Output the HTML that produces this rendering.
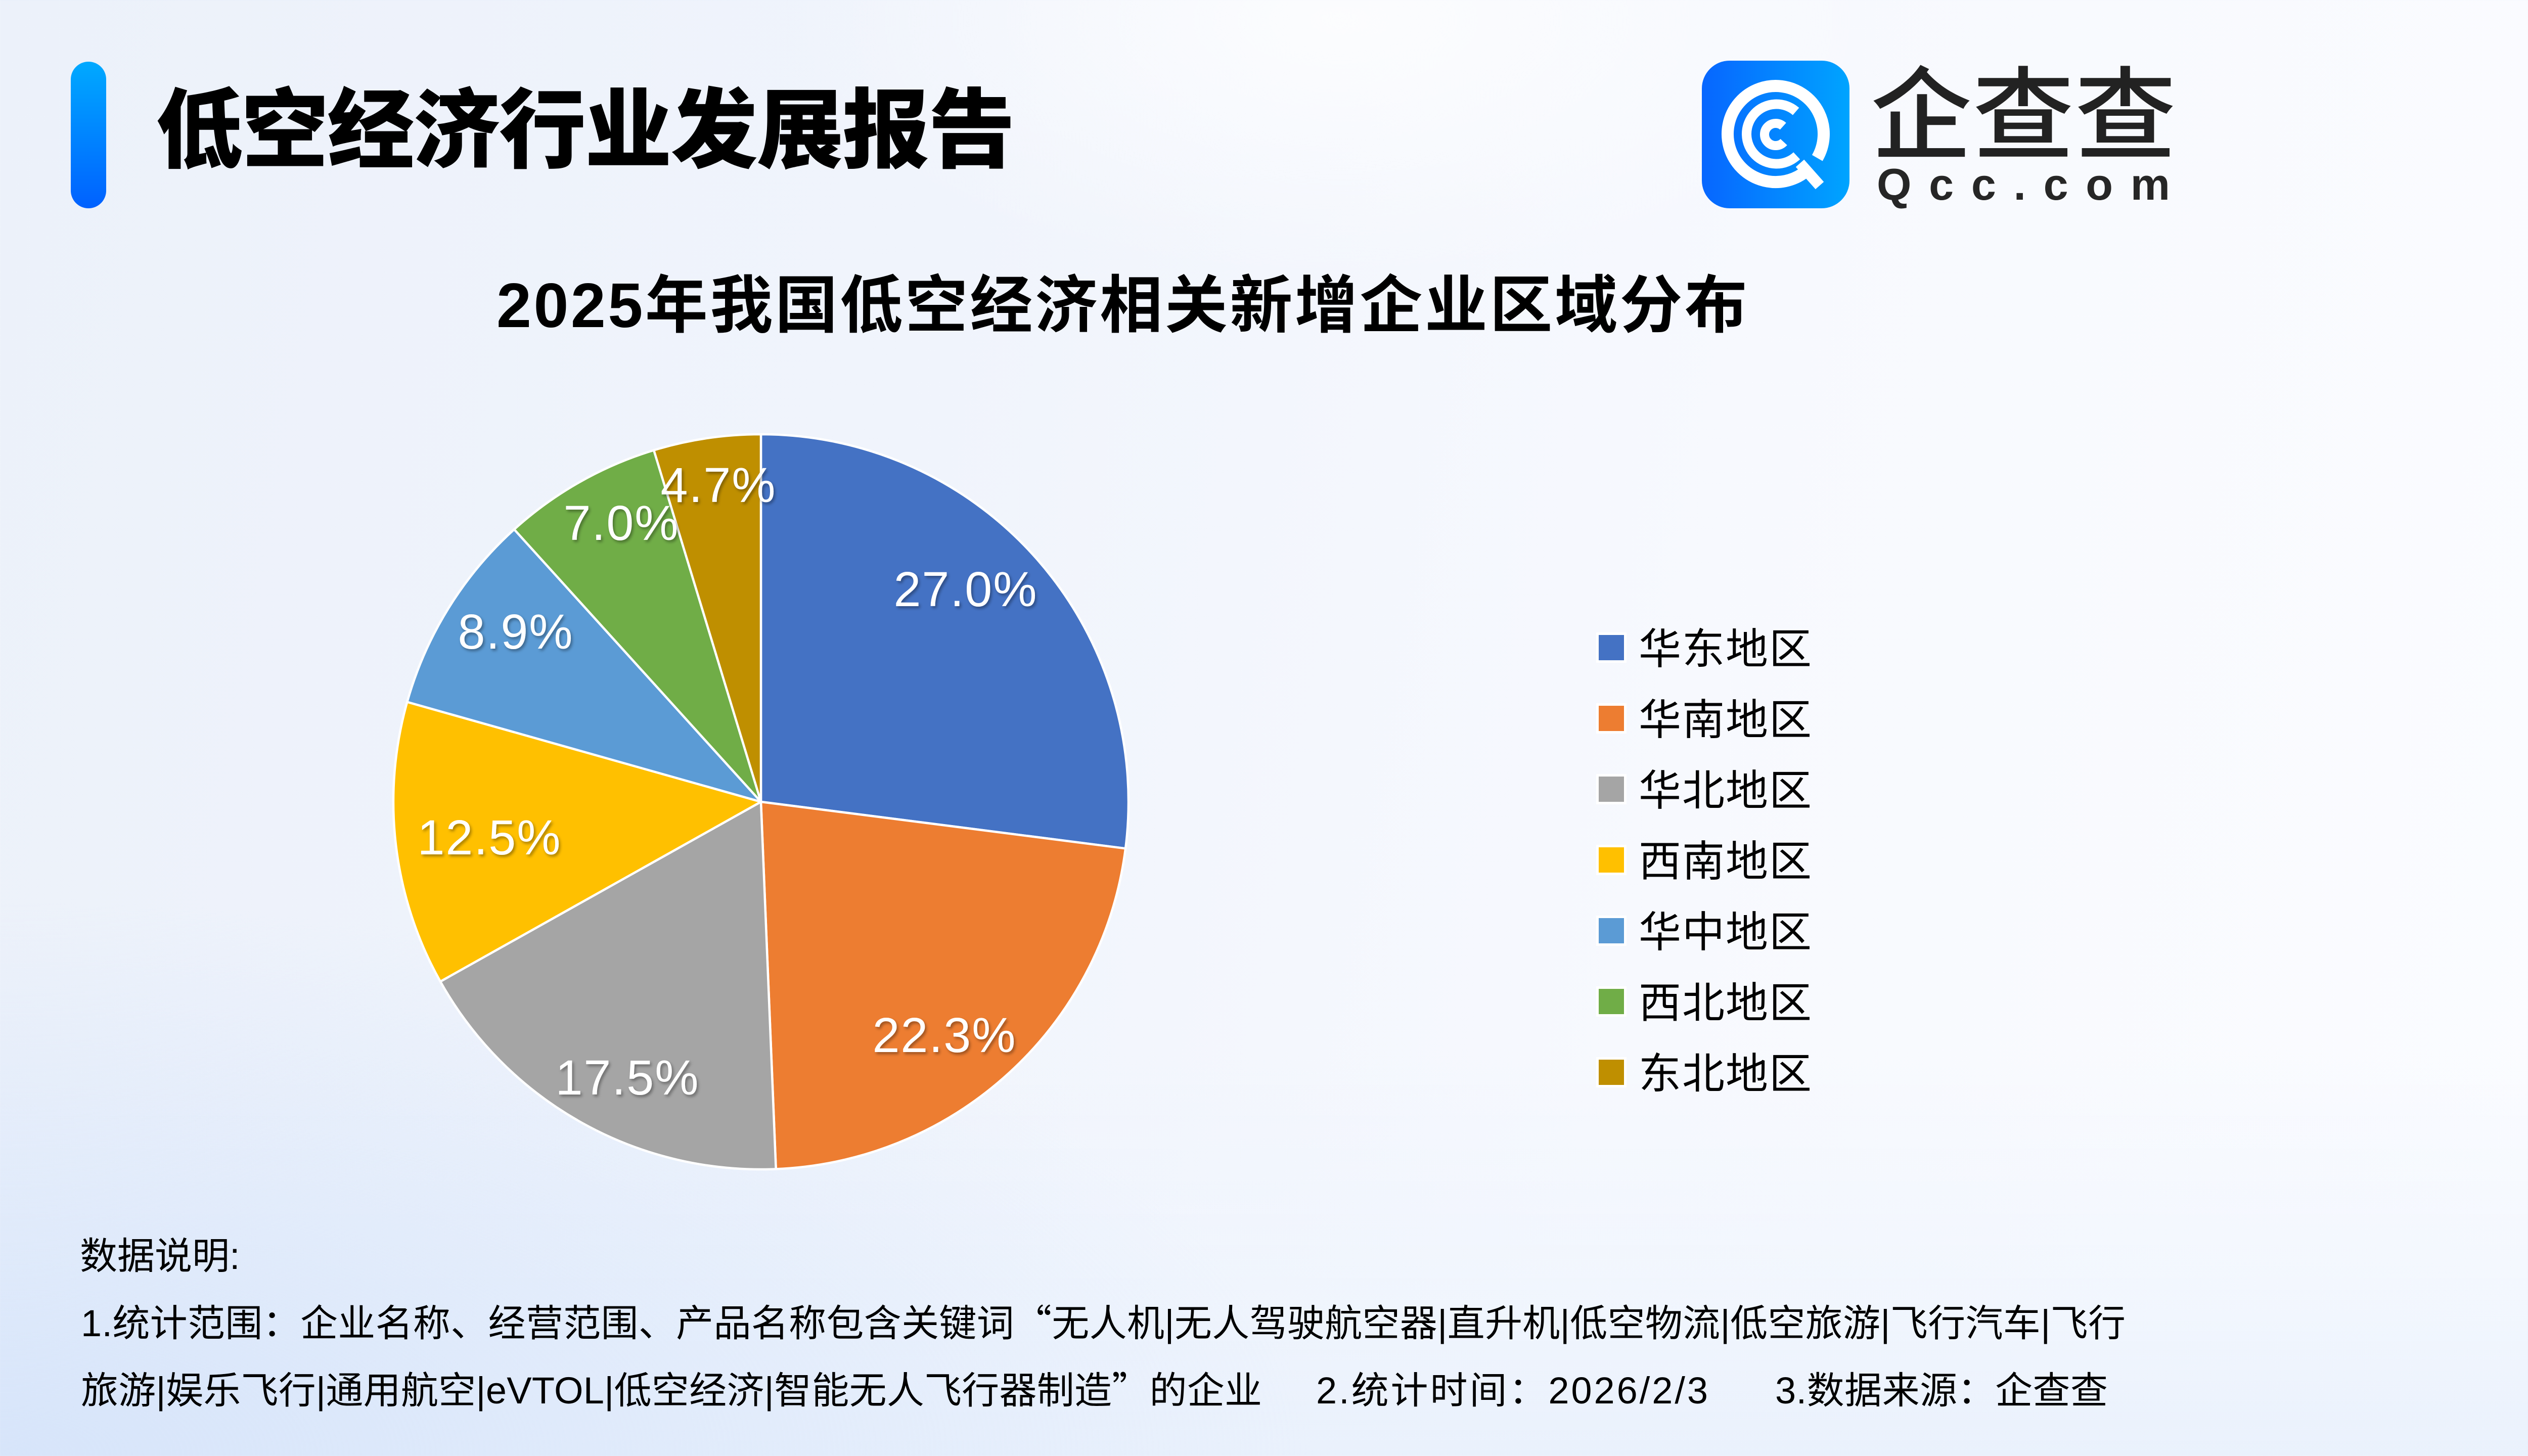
<!DOCTYPE html>
<html>
<head>
<meta charset="utf-8">
<style>
  html,body{margin:0;padding:0;}
  body{width:5120px;height:2880px;overflow:hidden;position:relative;
    background:
      radial-gradient(ellipse 1100px 520px at 2650px 40px, rgba(255,255,255,0.75), rgba(255,255,255,0) 100%),
      radial-gradient(ellipse 2600px 1100px at 0px 2880px, rgba(214,228,250,0.95), rgba(214,228,250,0) 100%),
      linear-gradient(to top, rgba(232,240,252,0.9) 0%, rgba(236,243,253,0.5) 12%, rgba(240,245,253,0) 28%),
      linear-gradient(100deg, #ECF1FA 0%, #F0F4FC 35%, #F7F9FE 65%, #FBFCFF 100%);
  }
  svg{position:absolute;left:0;top:0;}
  text{font-family:"Liberation Sans","Noto Sans CJK SC",sans-serif;}
  .cjk{font-family:"Noto Sans CJK SC","Liberation Sans",sans-serif;}
</style>
</head>
<body>
<svg width="5120" height="2880" viewBox="0 0 5120 2880" xmlns="http://www.w3.org/2000/svg">
  <defs>
    <linearGradient id="bar" x1="0" y1="0" x2="0" y2="1">
      <stop offset="0" stop-color="#00A9FF"/>
      <stop offset="1" stop-color="#0061FF"/>
    </linearGradient>
    <linearGradient id="ico" x1="0" y1="0" x2="1" y2="0">
      <stop offset="0" stop-color="#0766FF"/>
      <stop offset="1" stop-color="#00A4FF"/>
    </linearGradient>
    <filter id="sh" x="-20%" y="-30%" width="140%" height="160%">
      <feDropShadow dx="3" dy="4" stdDeviation="3" flood-color="#000" flood-opacity="0.35"/>
    </filter>
  </defs>

  <!-- header -->
  <rect x="140" y="122" width="70" height="290" rx="35" ry="35" fill="url(#bar)"/>
  <text x="308" y="318" font-size="172" font-weight="900" fill="#000" textLength="1700" lengthAdjust="spacing">低空经济行业发展报告</text>

  <!-- logo -->
  <rect x="3366" y="120" width="292" height="292" rx="55" ry="55" fill="url(#ico)"/>
  <g transform="translate(3366,120)" fill="none" stroke="#fff">
    <path d="M204.5 219.9 A95 95 0 1 1 228.3 192.5" stroke-width="24"/>
    <line x1="194" y1="203" x2="233" y2="247" stroke-width="22"/>
    <path d="M187.7 188.2 A59 59 0 1 1 186.1 100.4" stroke-width="19"/>
    <path d="M162.1 161 A22 22 0 1 1 160.7 129.7" stroke-width="18"/>
  </g>
  <text x="3700" y="299" font-size="200" font-weight="500" fill="#222" class="cjk" textLength="604" lengthAdjust="spacing">企查查</text>
  <text x="3712" y="395" font-size="88" font-weight="700" fill="#262626" textLength="580" lengthAdjust="spacing">Qcc.com</text>

  <!-- chart title -->
  <text x="982" y="647" font-size="124" font-weight="700" fill="#000" textLength="2474" lengthAdjust="spacing">2025年我国低空经济相关新增企业区域分布</text>

  <!-- pie -->
  <g stroke="#fff" stroke-width="4.5" stroke-linejoin="round">
    <path d="M1505 1586 L1505 859 A727 727 0 0 1 2226.1 1678.3 Z" fill="#4472C4"/>
    <path d="M1505 1586 L2226.1 1678.3 A727 727 0 0 1 1534.7 2312.4 Z" fill="#ED7D31"/>
    <path d="M1505 1586 L1534.7 2312.4 A727 727 0 0 1 870.9 1941.5 Z" fill="#A5A5A5"/>
    <path d="M1505 1586 L870.9 1941.5 A727 727 0 0 1 805.3 1388.5 Z" fill="#FFC000"/>
    <path d="M1505 1586 L805.3 1388.5 A727 727 0 0 1 1017.0 1047.1 Z" fill="#5B9BD5"/>
    <path d="M1505 1586 L1017.0 1047.1 A727 727 0 0 1 1293.2 890.5 Z" fill="#70AD47"/>
    <path d="M1505 1586 L1293.2 890.5 A727 727 0 0 1 1505 859 Z" fill="#BF8F00"/>
  </g>
  <g font-size="97" fill="#fff" text-anchor="middle" letter-spacing="2" filter="url(#sh)">
    <text x="1910" y="1199">27.0%</text>
    <text x="1868" y="2081">22.3%</text>
    <text x="1241" y="2165">17.5%</text>
    <text x="968" y="1690">12.5%</text>
    <text x="1020" y="1283">8.9%</text>
    <text x="1229" y="1068">7.0%</text>
    <text x="1421" y="993">4.7%</text>
  </g>

  <!-- legend -->
  <g>
    <rect x="3157" y="1251" width="60" height="60" fill="#fff"/><rect x="3162" y="1256" width="50" height="50" fill="#4472C4"/>
    <rect x="3157" y="1391" width="60" height="60" fill="#fff"/><rect x="3162" y="1396" width="50" height="50" fill="#ED7D31"/>
    <rect x="3157" y="1531" width="60" height="60" fill="#fff"/><rect x="3162" y="1536" width="50" height="50" fill="#A5A5A5"/>
    <rect x="3157" y="1671" width="60" height="60" fill="#fff"/><rect x="3162" y="1676" width="50" height="50" fill="#FFC000"/>
    <rect x="3157" y="1811" width="60" height="60" fill="#fff"/><rect x="3162" y="1816" width="50" height="50" fill="#5B9BD5"/>
    <rect x="3157" y="1951" width="60" height="60" fill="#fff"/><rect x="3162" y="1956" width="50" height="50" fill="#70AD47"/>
    <rect x="3157" y="2091" width="60" height="60" fill="#fff"/><rect x="3162" y="2096" width="50" height="50" fill="#BF8F00"/>
  </g>
  <g font-size="84" fill="#000">
    <text x="3241" y="1313" textLength="342" lengthAdjust="spacing">华东地区</text>
    <text x="3241" y="1453" textLength="342" lengthAdjust="spacing">华南地区</text>
    <text x="3241" y="1593" textLength="342" lengthAdjust="spacing">华北地区</text>
    <text x="3241" y="1733" textLength="342" lengthAdjust="spacing">西南地区</text>
    <text x="3241" y="1873" textLength="342" lengthAdjust="spacing">华中地区</text>
    <text x="3241" y="2013" textLength="342" lengthAdjust="spacing">西北地区</text>
    <text x="3241" y="2153" textLength="342" lengthAdjust="spacing">东北地区</text>
  </g>

  <!-- footnote -->
  <g font-size="74" fill="#000">
    <text x="158" y="2510">数据说明:</text>
    <text x="160" y="2643" textLength="4044" lengthAdjust="spacing">1.统计范围：企业名称、经营范围、产品名称包含关键词<tspan class="cjk">“</tspan>无人机|无人驾驶航空器|直升机|低空物流|低空旅游|飞行汽车|飞行</text>
    <text x="160" y="2776" textLength="2336" lengthAdjust="spacing">旅游|娱乐飞行|通用航空|eVTOL|低空经济|智能无人飞行器制造<tspan class="cjk">”</tspan>的企业</text>
    <text x="2603" y="2776" textLength="775" lengthAdjust="spacing">2.统计时间：2026/2/3</text>
    <text x="3511" y="2776" textLength="658" lengthAdjust="spacing">3.数据来源：企查查</text>
  </g>
</svg>
</body>
</html>
